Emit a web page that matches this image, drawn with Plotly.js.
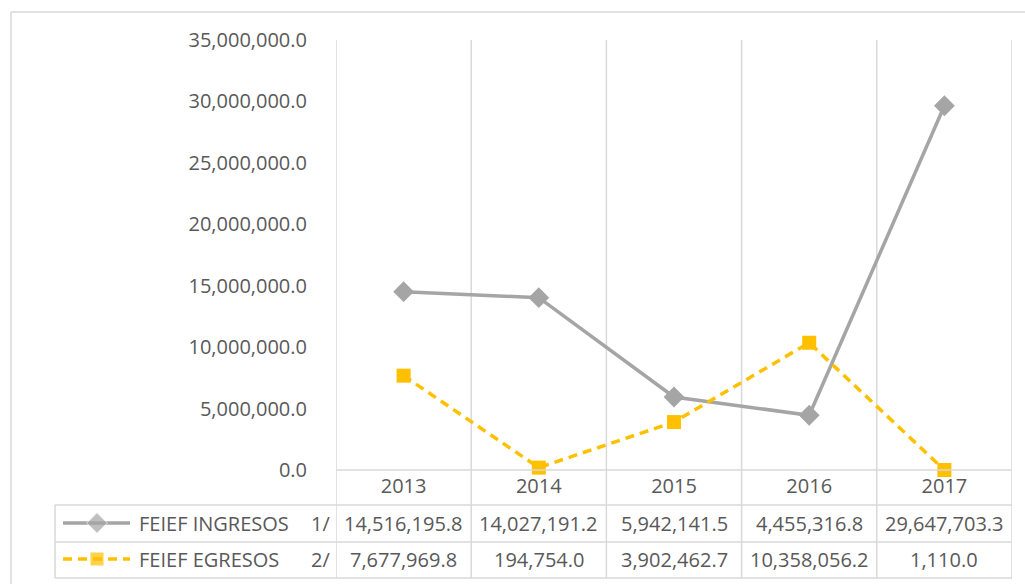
<!DOCTYPE html>
<html>
<head>
<meta charset="utf-8">
<script src="https://cdn.plot.ly/plotly-3.0.1.min.js"></script>
<style>html,body{margin:0;padding:0;background:#fff;}#chart{width:1025px;height:584px;}</style>
</head>
<body>
<div id="chart"></div>
<script>
var years = ['2013', '2014', '2015', '2016', '2017'];
var ingresos = [14516195.8, 14027191.2, 5942141.5, 4455316.8, 29647703.3];
var egresos = [7677969.8, 194754.0, 3902462.7, 10358056.2, 1110.0];
var ingresosLabel = 'FEIEF INGRESOS';
var egresosLabel = 'FEIEF EGRESOS';
var ingresosNote = '1/';
var egresosNote = '2/';

var W = 1025, H = 584;
var TXT = '#595959', GRID = '#d9d9d9';
var FONT = 'Open Sans';
var FS = 20;
var DASH = '9px,6px';

function fmt(v) {
  return v.toLocaleString('en-US', {minimumFractionDigits: 1, maximumFractionDigits: 1});
}

var traces = [
  {x: years, y: ingresos, type: 'scatter', mode: 'lines+markers', name: ingresosLabel,
   line: {color: '#a5a5a5', width: 3.5}, marker: {symbol: 'diamond', size: 16, color: '#a5a5a5'},
   xaxis: 'x', yaxis: 'y', showlegend: false, cliponaxis: false},
  {x: years, y: egresos, type: 'scatter', mode: 'lines+markers', name: egresosLabel,
   line: {color: '#ffc000', width: 3.5, dash: DASH}, marker: {symbol: 'square', size: 14, color: '#ffc000'},
   xaxis: 'x', yaxis: 'y', showlegend: false, cliponaxis: false},
  // legend keys inside the data table
  {x: [63, 97, 130], y: [523, 523, 523], type: 'scatter', mode: 'lines+markers',
   line: {color: '#a5a5a5', width: 3.5}, marker: {symbol: 'diamond', size: [0, 16, 0], color: '#a5a5a5'},
   xaxis: 'x2', yaxis: 'y2', showlegend: false, hoverinfo: 'skip'},
  {x: [63, 97, 130], y: [559, 559, 559], type: 'scatter', mode: 'lines+markers',
   line: {color: '#ffc000', width: 3.5, dash: DASH}, marker: {symbol: 'square', size: [0, 14, 0], color: '#ffc000'},
   xaxis: 'x2', yaxis: 'y2', showlegend: false, hoverinfo: 'skip'}
];

var shapes = [];
function hline(x0, x1, y, xref) {
  shapes.push({type: 'line', xref: xref || 'x2', yref: 'y2', x0: x0, x1: x1, y0: y, y1: y,
    line: {color: GRID, width: 1.5}, layer: 'below'});
}
function vline(x, y0, y1, xref) {
  shapes.push({type: 'line', xref: xref || 'x2', yref: 'y2', x0: x, x1: x, y0: y0, y1: y1,
    line: {color: GRID, width: 1.5}, layer: 'below'});
}
// outer chart border
hline(11, 1025, 12);
vline(11, 12, 584);
// category boundaries (gridlines + table columns)
for (var i = 0; i <= years.length; i++) {
  shapes.push({type: 'line', xref: 'x', yref: 'y2', x0: i - 0.5, x1: i - 0.5, y0: 40, y1: 578,
    line: {color: GRID, width: 1.5}, layer: 'below'});
}
// table rows
hline(336, 1012, 470);
hline(55, 1012, 505);
hline(55, 1012, 542);
hline(55, 1012, 578);
vline(55, 505, 578);

var annotations = [];
function ann(x, y, text, xanchor, xref) {
  annotations.push({x: x, y: y, xref: xref || 'x2', yref: 'y2', text: text, showarrow: false,
    xanchor: xanchor || 'center', yanchor: 'middle', font: {family: FONT, size: FS, color: TXT}});
}
ann(137, 523, ingresosLabel, 'left');
ann(332, 523, ingresosNote, 'right');
ann(137, 559, egresosLabel, 'left');
ann(332, 559, egresosNote, 'right');
for (var j = 0; j < years.length; j++) {
  ann(j, 523, fmt(ingresos[j]), 'center', 'x');
  ann(j, 559, fmt(egresos[j]), 'center', 'x');
}

var layout = {
  width: W, height: H,
  margin: {l: 0, r: 0, t: 0, b: 0},
  paper_bgcolor: '#fff', plot_bgcolor: 'rgba(0,0,0,0)',
  font: {family: FONT, size: FS, color: TXT},
  showlegend: false,
  xaxis: {
    type: 'category', domain: [336 / W, 1012 / W], range: [-0.5, years.length - 0.5],
    showgrid: false, zeroline: false, showline: false,
    ticks: '', tickfont: {family: FONT, size: FS, color: TXT}, ticklabelstandoff: 2,
    anchor: 'y', fixedrange: true
  },
  yaxis: {
    domain: [(H - 470) / H, (H - 40) / H], range: [0, 35000000], dtick: 5000000, tick0: 0,
    tickformat: ',.1f', showgrid: false, zeroline: false, showline: false, ticks: '',
    ticklabelstandoff: 28, tickfont: {family: FONT, size: FS, color: TXT},
    anchor: 'x', fixedrange: true
  },
  xaxis2: {domain: [0, 1], range: [0, W], visible: false, anchor: 'y2', fixedrange: true},
  yaxis2: {domain: [0, 1], range: [H, 0], visible: false, anchor: 'x2', fixedrange: true},
  shapes: shapes,
  annotations: annotations
};

Plotly.newPlot('chart', traces, layout, {staticPlot: true, displayModeBar: false});
</script>
</body>
</html>
